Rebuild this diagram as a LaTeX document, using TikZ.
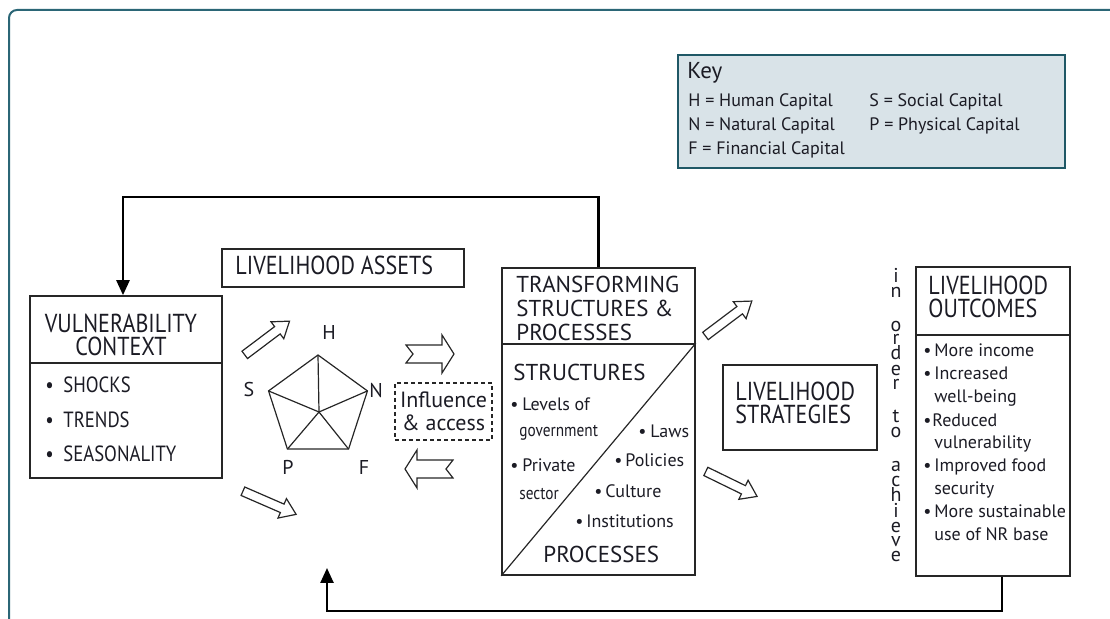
\documentclass[tikz,border=0pt]{standalone}
\usepackage{fontspec}
\setmainfont{PT Sans}
\newfontfamily\condfont{PT Sans}[FakeStretch=0.85]
\usetikzlibrary{fit}
\usetikzlibrary{shapes.geometric}
\usetikzlibrary{shapes.arrows}
\usetikzlibrary{arrows.meta}
\definecolor{frameteal}{HTML}{2B6676}
\definecolor{keyfill}{HTML}{D9E3E8}
\definecolor{keyline}{HTML}{1F5866}
\definecolor{ink}{HTML}{1B1B24}
\tikzset{box/.style={rectangle, draw=black!85, line width=0.8pt, inner sep=0pt}}
\tikzset{title/.style={font=\condfont\fontsize{13pt}{11.5pt}\selectfont, text=ink, inner sep=0pt, align=left}}
\tikzset{tsptext/.style={font=\fontsize{11.5pt}{12pt}\selectfont, text=ink, inner sep=0pt, align=left}}
\tikzset{head/.style={font=\condfont\fontsize{11pt}{12pt}\selectfont, text=ink, inner sep=0pt, anchor=base west}}
\tikzset{item/.style={font=\fontsize{9pt}{10pt}\selectfont, text=ink, inner sep=0pt, anchor=base west}}
\tikzset{cond/.style={font=\condfont\fontsize{9pt}{10pt}\selectfont, text=ink, inner sep=0pt, anchor=base west}}
\tikzset{asset/.style={font=\fontsize{10pt}{12pt}\selectfont, text=ink, inner sep=0pt, anchor=base}}
\tikzset{feedback/.style={line width=1.25pt, -{Triangle[length=7.5pt, width=6.5pt]}}}
\tikzset{hollow/.style={single arrow, draw=black!85, line width=0.6pt, minimum width=0pt,
   single arrow head extend=3pt, single arrow tip angle=70, inner xsep=0pt, inner ysep=2pt}}
\tikzset{dashbox/.style={rectangle, draw=black!85, line width=0.6pt, dash pattern=on 2pt off 1.5pt}}
\tikzset{notched/.pic={
   \draw[black!85, line width=0.6pt, line join=miter]
      (0,-9) -- (36,-9) -- (36,-19) -- (48,0) -- (36,19) -- (36,9) -- (0,9) -- (7,0) -- cycle;
}}
\newcommand{\bul}[1]{\makebox[#1][l]{\textbullet}}

\begin{document}
\begin{tikzpicture}[x=0.5pt, y=-0.5pt]

    \useasboundingbox (0,0) rectangle (1110,619);
    \clip (0,0) rectangle (1110,619);
    \draw[frameteal, line width=1pt, rounded corners=4pt] (9,10) rectangle (1140,650);

    % key
    \node[box, draw=keyline, fill=keyfill, line width=1pt, fit={(678,55) (1065,168)}] (key) {};
    \node[item, font=\fontsize{11.5pt}{12pt}\selectfont] (key-t) at (687,79) {Key};
    \node[item] (key-h) at (688,107) {H = Human Capital};
    \node[item] (key-n) at (688,131) {N = Natural Capital};
    \node[item] (key-f) at (688,155) {F = Financial Capital};
    \node[item] (key-s) at (869,107) {S = Social Capital};
    \node[item] (key-p) at (869,131) {P = Physical Capital};

    % vulnerability context
    \node[box, fit={(30,296) (222,363)}] (vul-title) {};
    \node[box, fit={(30,363) (222,478)}] (vul-body) {};
    \node[title, align=center] (vul-t) at (121,335) {VULNERABILITY\\CONTEXT};
    \node[head] (vul-1) at (45,393) {\bul{9pt}SHOCKS};
    \node[head] (vul-2) at (45,428) {\bul{9pt}TRENDS};
    \node[head] (vul-3) at (45,462) {\bul{9pt}SEASONALITY};

    % assets
    \node[box, fit={(222,249) (464,287)}] (assets) {};
    \node[title, anchor=base west] (assets-t) at (235,275) {LIVELIHOOD ASSETS};
    \node[regular polygon, regular polygon sides=5, draw=black!85, line width=0.6pt,
          minimum size=52pt, inner sep=0pt, outer sep=0pt] (pent) at (318,407) {};
    \coordinate (hub) at (319,412);
    \draw[black!85, line width=0.6pt] (hub) -- (pent.corner 1);
    \draw[black!85, line width=0.6pt] (hub) -- (pent.corner 2);
    \draw[black!85, line width=0.6pt] (hub) -- (pent.corner 3);
    \draw[black!85, line width=0.6pt] (hub) -- (pent.corner 4);
    \draw[black!85, line width=0.6pt] (hub) -- (pent.corner 5);
    \node[asset] (cap-h) at (329,340) {H};
    \node[asset] (cap-s) at (249,397) {S};
    \node[asset] (cap-n) at (376,398) {N};
    \node[asset] (cap-p) at (288,475) {P};
    \node[asset] (cap-f) at (364,475) {F};

    \node[hollow, rotate=37, minimum height=28pt] (arr-a) at (264.5,340) {};
    \node[hollow, rotate=-23.5, minimum height=29pt] (arr-b) at (266.5,501.5) {};
    \pic (arr-c) at (406,354) {notched};
    \pic[xscale=-1] (arr-d) at (453,469) {notched};
    \node[dashbox, minimum width=48.5pt, minimum height=28.5pt, align=center, inner sep=0pt,
          text=ink, font=\fontsize{11pt}{11.5pt}\selectfont] (infl) at (443.5,411.5) {Influence\\\& access};

    % transforming structures and processes
    \node[box, fit={(502,268) (695,344)}] (tsp-title) {};
    \node[box, fit={(502,344) (695,575)}] (tsp-body) {};
    \draw[black!85, line width=0.6pt] (tsp-body.south west) -- (tsp-body.north east);
    \node[tsptext, anchor=west] (tsp-t) at (516,308.5) {TRANSFORMING\\STRUCTURES \&\\PROCESSES};
    \node[tsptext, anchor=base west] (tsp-s) at (513,381) {STRUCTURES};
    \node[tsptext, anchor=base west] (tsp-p) at (543,563) {PROCESSES};
    \node[item] (tsp-1) at (510,411) {\bul{6pt}Levels of};
    \node[cond] (tsp-2) at (519,437) {government};
    \node[item] (tsp-3) at (510,472) {\bul{6pt}Private};
    \node[cond] (tsp-4) at (519,500) {sector};
    \node[item] (tsp-5) at (638,438) {\bul{6pt}Laws};
    \node[item] (tsp-6) at (614,467) {\bul{5.5pt}Policies};
    \node[item] (tsp-7) at (594,498) {\bul{5.5pt}Culture};
    \node[item] (tsp-8) at (575,528) {\bul{5.5pt}Institutions};

    \node[hollow, rotate=37, minimum height=29pt] (arr-e) at (726,320.5) {};
    \node[hollow, rotate=-26, minimum height=28.5pt] (arr-f) at (728.5,482.5) {};

    % strategies and outcomes
    \node[box, fit={(723,365) (877,450)}] (strat) {};
    \node[title, anchor=west] (strat-t) at (735,402.5) {LIVELIHOOD\\STRATEGIES};
    \foreach \ch/\y [count=\i] in {i/283, n/298, o/332, r/345, d/360, e/376, r/390, t/423, o/438,
                                   a/472, c/487, h/502, i/518, e/533, v/547, e/562}
        \node[asset] (order-\i) at (896,\y) {\ch};
    \node[box, fit={(916,267) (1070,335)}] (out-title) {};
    \node[box, fit={(916,335) (1070,576)}] (out-body) {};
    \node[title, anchor=west] (out-t) at (928,297) {LIVELIHOOD\\OUTCOMES};
    \node[item] (out-1) at (923,357) {\bul{5.5pt}More income};
    \node[item] (out-2) at (923,380) {\bul{5.5pt}Increased};
    \node[item] (out-3) at (934,403) {well-being};
    \node[item] (out-4) at (923,427) {\bul{4.5pt}Reduced};
    \node[item] (out-5) at (934,449) {vulnerability};
    \node[item] (out-6) at (923,472) {\bul{5.5pt}Improved food};
    \node[item] (out-7) at (934,495) {security};
    \node[item] (out-8) at (923,518) {\bul{5.5pt}More sustainable};
    \node[item] (out-9) at (934,541) {use of NR base};

    % feedback loops
    \coordinate (fb-end) at (327,568);
    \draw[feedback] (tsp-title.north) -- ++(0,-70) -| ([xshift=-1.5pt]vul-title.north);
    \draw[feedback] ([xshift=4.5pt]out-body.south) -- ++(0,34) -| (fb-end);

\end{tikzpicture}
\end{document}
